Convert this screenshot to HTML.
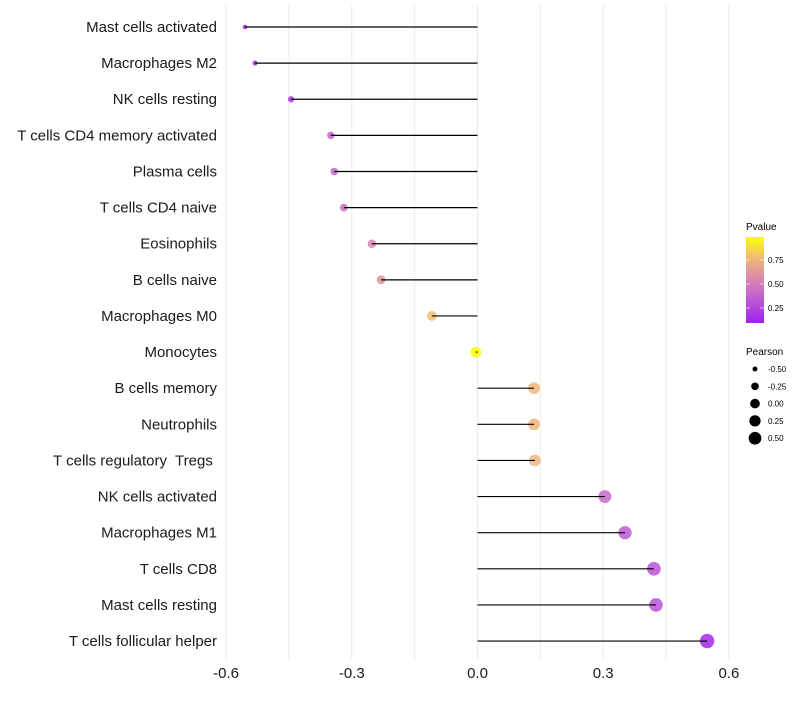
<!DOCTYPE html>
<html><head><meta charset="utf-8"><style>
body{margin:0;background:#fff;font-family:"Liberation Sans",sans-serif;}
svg text{font-family:"Liberation Sans",sans-serif;white-space:pre;}
</style></head><body>
<svg id="chart" width="800" height="700" xmlns="http://www.w3.org/2000/svg">
<defs><linearGradient id="pg" x1="0" y1="1" x2="0" y2="0">
<stop offset="0" stop-color="#a020f0"/><stop offset="0.3" stop-color="#c060d0"/><stop offset="0.5" stop-color="#d884b0"/><stop offset="0.75" stop-color="#f0b878"/><stop offset="1" stop-color="#ffff00"/></linearGradient></defs>
<g id="grid"></g>
<g id="points"></g>
<g id="marks"></g>
<g id="ylabels"></g>
<g id="xlabels"></g>
<g>
<text x="746" y="230" font-size="10">Pvalue</text>
<rect x="746" y="237" width="18" height="86" fill="url(#pg)"/>
<line x1="746" y1="260" x2="750" y2="260" stroke="#fff" opacity="0.6"/><line x1="760" y1="260" x2="764" y2="260" stroke="#fff" opacity="0.6"/>
<line x1="746" y1="284" x2="750" y2="284" stroke="#fff" opacity="0.6"/><line x1="760" y1="284" x2="764" y2="284" stroke="#fff" opacity="0.6"/>
<line x1="746" y1="308" x2="750" y2="308" stroke="#fff" opacity="0.6"/><line x1="760" y1="308" x2="764" y2="308" stroke="#fff" opacity="0.6"/>
<text x="768" y="263" font-size="8">0.75</text>
<text x="768" y="287" font-size="8">0.50</text>
<text x="768" y="311" font-size="8">0.25</text>
</g>
<g id="sizeleg">
<text x="746" y="355" font-size="10">Pearson</text>
</g>
</svg>
<script>
const categories=["Mast cells activated","Macrophages M2","NK cells resting","T cells CD4 memory activated","Plasma cells","T cells CD4 naive","Eosinophils","B cells naive","Macrophages M0","Monocytes","B cells memory","Neutrophils","T cells regulatory  Tregs ","NK cells activated","Macrophages M1","T cells CD8","Mast cells resting","T cells follicular helper"];
const pearson=[-0.555,-0.531,-0.445,-0.35,-0.342,-0.319,-0.252,-0.23,-0.109,-0.004,0.135,0.135,0.137,0.304,0.352,0.421,0.426,0.548];
const pvalue=[0.1,0.1,0.2,0.38,0.4,0.42,0.55,0.6,0.78,0.99,0.75,0.75,0.75,0.4,0.32,0.3,0.3,0.12];
const xticks=[-0.6,-0.3,0,0.3,0.6];
const xtickLabels=["-0.6","-0.3","0.0","0.3","0.6"];
const sizeLegendValues=[-0.5,-0.25,0,0.25,0.5];
const sizeLegendLabels=["-0.50","-0.25","0.00","0.25","0.50"];

const NS="http://www.w3.org/2000/svg";
function mk(t,a,p){const e=document.createElementNS(NS,t);for(const k in a)e.setAttribute(k,a[k]);p.appendChild(e);return e;}
const x=v=>477.5+(v)*419;
const y=i=>27+i*36.12;
const pmin=0.09,pmax=0.99;
const stops=[[0,[160,32,240]],[0.3,[192,96,208]],[0.5,[216,132,176]],[0.75,[240,184,120]],[1,[255,255,0]]];
function col(p){let t=Math.max(0,Math.min(1,(p-pmin)/(pmax-pmin)));for(let i=1;i<stops.length;i++){if(t<=stops[i][0]){const a=stops[i-1],b=stops[i];const f=(t-a[0])/(b[0]-a[0]);return "rgb("+a[1].map((c,j)=>Math.round(c+(b[1][j]-c)*f)).join(",")+")";}}return "rgb(255,255,0)";}
const smin=-0.555,smax=0.548;
function rad(v){const t=Math.max(0,(v-smin)/(smax-smin));return Math.sqrt(2.3*2.3+t*(7.2*7.2-2.3*2.3));}
const grid=document.getElementById('grid');
for(let v=-0.6;v<=0.61;v+=0.15){const g=mk('line',{x1:x(v),x2:x(v),y1:5,y2:660,stroke:'#ebebeb','stroke-width':1},grid);

}
const marks=document.getElementById('marks'),pts=document.getElementById('points'),yl=document.getElementById('ylabels'),xl=document.getElementById('xlabels');
categories.forEach((c,i)=>{
const d=mk('circle',{cx:x(pearson[i]),cy:y(i),r:rad(pearson[i]),fill:col(pvalue[i]),opacity:0.85},pts);


const l=mk('line',{x1:x(0),x2:x(pearson[i]),y1:y(i),y2:y(i),stroke:'#000','stroke-width':1.2},marks);


const t=mk('text',{x:217,y:y(i)+5,'text-anchor':'end','font-size':15,fill:'#1a1a1a'},yl);t.textContent=c;


});
xticks.forEach((v,i)=>{const t=mk('text',{x:x(v),y:678,'text-anchor':'middle','font-size':15,fill:'#1a1a1a'},xl);t.textContent=xtickLabels[i];

});
const sl=document.getElementById('sizeleg');
sizeLegendValues.forEach((v,i)=>{const cy=369+i*17.3;
const c=mk('circle',{cx:755,cy:cy,r:rad(v)*0.9,fill:'#000'},sl);


const t=mk('text',{x:768,y:cy+3,'font-size':8},sl);t.textContent=sizeLegendLabels[i];

});
</script>
</body></html>
